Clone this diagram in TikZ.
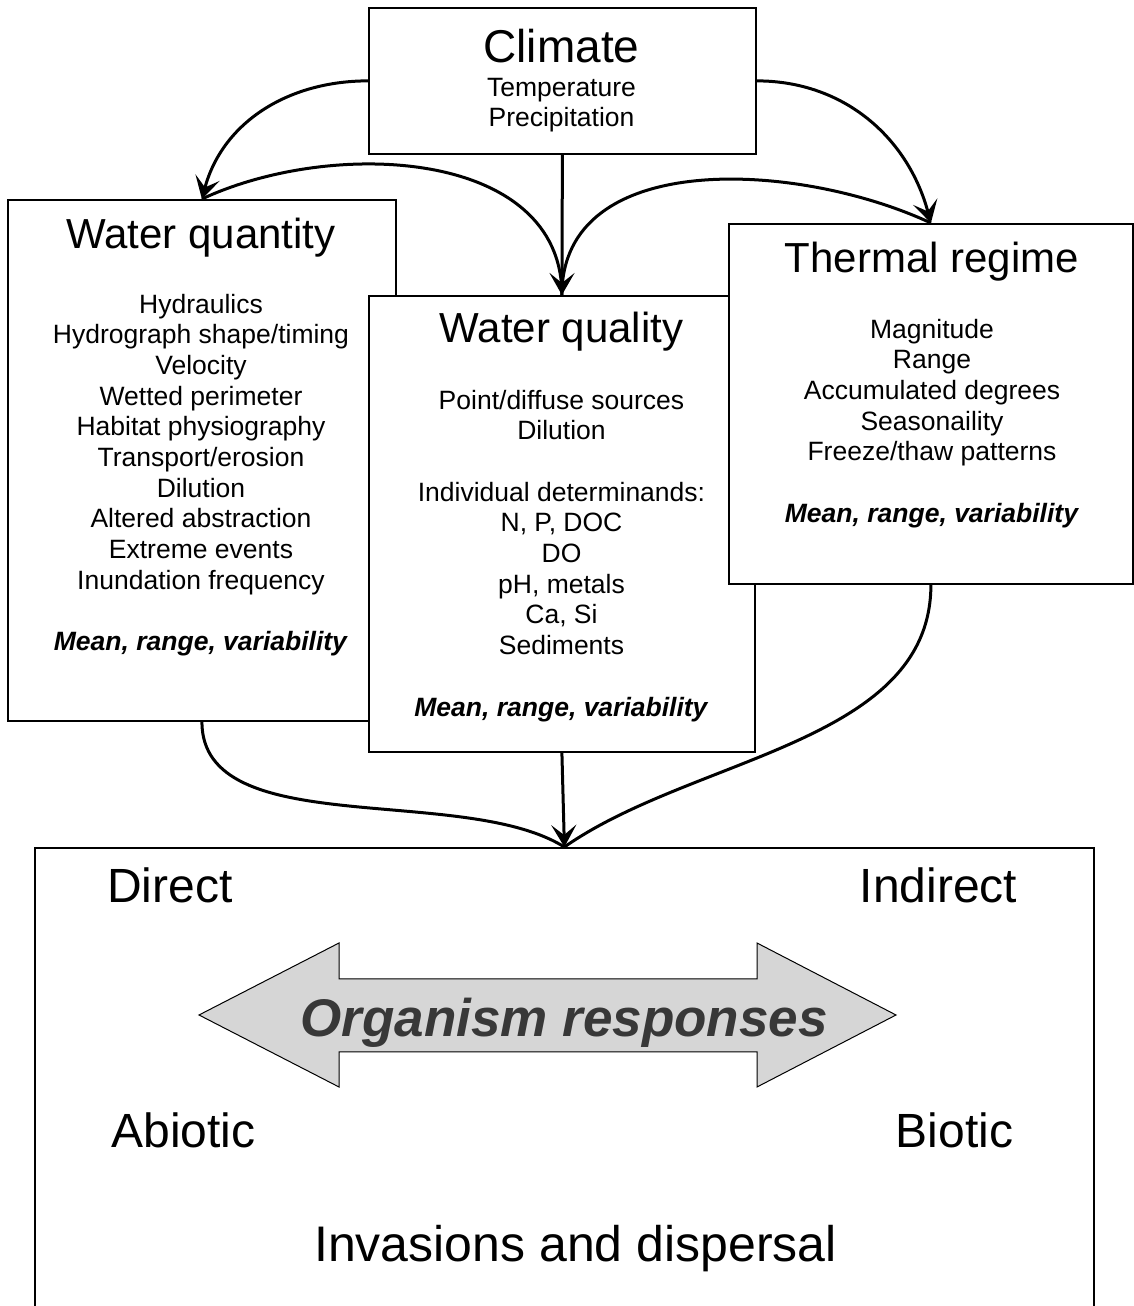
\documentclass[tikz,border=0pt]{standalone}
\usepackage{fontspec}
\setmainfont{Liberation Sans}
\usetikzlibrary{arrows.meta}

\begin{document}
\begin{tikzpicture}[x=1pt, y=1pt,
  box/.style = {draw, line width=1.8pt, fill=white, inner sep=0pt, anchor=north west},
  head/.style = {font=\fontsize{42}{48}\selectfont, inner sep=0pt, anchor=base},
  item/.style = {font=\fontsize{26.5}{30.7}\selectfont, align=center, inner sep=0pt, anchor=north},
  big/.style = {font=\fontsize{48}{56}\selectfont, inner sep=0pt, anchor=base},
  link/.style = {line width=3pt},
  flow/.style = {link, -{Stealth[length=22pt, width=25pt, inset=10pt]}}]
\useasboundingbox (0,0) rectangle (1134,1306);

% boxes
\node[box, minimum width=387pt, minimum height=146pt] (clim) at (368,1299) {};
\node[box, minimum width=388pt, minimum height=521pt] (quan) at (7,1107) {};
\node[box, minimum width=386pt, minimum height=456pt] (qual) at (368,1011) {};
\node[box, minimum width=404pt, minimum height=360pt] (ther) at (728,1083) {};
\node[box, minimum width=1059pt, minimum height=480pt] (resp) at (34,459) {};

% climate
\node[head, font=\fontsize{46}{52}\selectfont] (clim-t) at (561.5,1243) {Climate};
\node[item] (clim-b) at (561.5,1228.3) {Temperature\\Precipitation};

% water quantity
\node[head] (quan-t) at (201,1057) {Water quantity};
\node[item] (quan-b) at (201,1012.3) {Hydraulics\\Hydrograph shape/timing\\Velocity\\Wetted perimeter\\Habitat physiography\\Transport/erosion\\Dilution\\Altered abstraction\\Extreme events\\Inundation frequency\\[30.7pt]\textbf{\textit{Mean, range, variability}}};

% water quality
\node[head] (qual-t) at (561.5,963) {Water quality};
\node[item] (qual-b) at (561.5,916.3) {Point/diffuse sources\\Dilution\\[30.7pt]Individual determinands:\\N, P, DOC\\DO\\pH, metals\\Ca, Si\\Sediments\\[30.7pt]\textbf{\textit{Mean, range, variability}}};

% thermal regime
\node[head] (ther-t) at (932,1033) {Thermal regime};
\node[item] (ther-b) at (932,987.3) {Magnitude\\Range\\Accumulated degrees\\Seasonaility\\Freeze/thaw patterns\\[30.7pt]\textbf{\textit{Mean, range, variability}}};

% connectors
\draw[flow] (clim.west) to[out=180, in=75] (quan.north);
\draw[flow] (clim.east) to[out=0, in=105] (ther.north);
\draw[flow] (clim.south) -- (qual.north);
\draw[link] (quan.north) to[out=25, in=90] (qual.north);
\draw[link] (ther.north) to[out=155, in=90] (qual.north);
\draw[link] (quan.south) to[out=-90, in=148, looseness=0.8] (resp.north);
\draw[link] (ther.south) to[out=-90, in=35, looseness=0.9] (resp.north);
\draw[flow] (qual.south) -- (resp.north);

% responses
\node[big] (direct) at (170,403) {Direct};
\node[big] (indirect) at (938.5,403) {Indirect};
\draw[line width=1pt, fill=black!16] (199,291) -- (339,363) -- (339,327) -- (757,327) -- (757,363) -- (896,291)
  -- (757,219) -- (757,254) -- (339,254) -- (339,219) -- cycle;
\node[big, font=\fontsize{53}{60}\selectfont\bfseries\itshape, text=black!78] (organism) at (564,269) {Organism responses};
\node[big] (abiotic) at (183.5,158) {Abiotic};
\node[big] (biotic) at (954.5,158) {Biotic};
\node[big, font=\fontsize{50}{58}\selectfont] (invasion) at (575.5,44) {Invasions and dispersal};
\end{tikzpicture}
\end{document}
